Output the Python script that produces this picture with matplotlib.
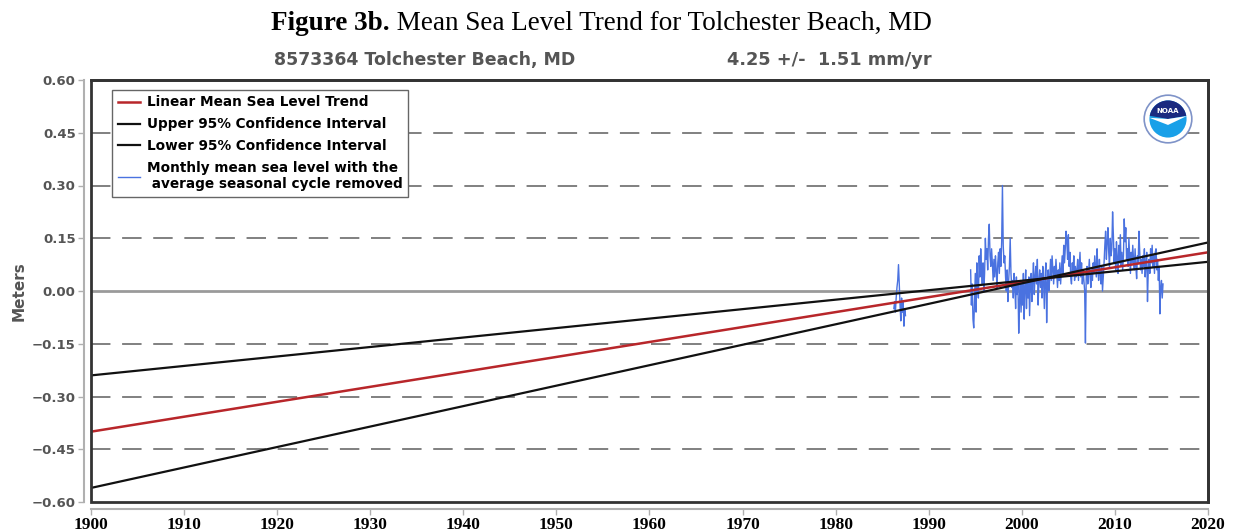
import numpy as np
import matplotlib
matplotlib.use("Agg")
import matplotlib.pyplot as plt
from matplotlib.patches import Rectangle, Circle, Wedge, Polygon

# ---------------- data ----------------
x_ticks = [1900, 1910, 1920, 1930, 1940, 1950, 1960, 1970, 1980, 1990, 2000, 2010, 2020]
y_ticks = [0.60, 0.45, 0.30, 0.15, 0.00, -0.15, -0.30, -0.45, -0.60]

trend_years = [1900, 2020]
trend_vals = [-0.40, 0.11]
ci_a_vals = [-0.56, 0.138]
ci_b_vals = [-0.24, 0.083]

# monthly MSL, segment 1 starts Apr 1986
seg1_start = 1986.25
seg1_vals = [-0.05, -0.03, -0.06, -0.02, 0.01, 0.03, 0.075, 0.02, -0.04, -0.085,
             -0.02, -0.06, -0.03, -0.10, -0.05, -0.07]

# monthly MSL, segment 2 starts Jul 1994
seg2_start = 1994.5
seg2_vals = [
    0.06, -0.04, 0.02, -0.08, -0.105, -0.03,
    0.05, -0.06, 0.08, 0.01, -0.02, 0.10, 0.04, 0.12, 0.06, 0.02, 0.08, 0.00,
    0.05, 0.15, 0.09, 0.12, 0.06, 0.15, 0.19, 0.10, 0.07, 0.12, 0.08, 0.03,
    0.09, 0.04, 0.10, 0.06, 0.01, 0.08, 0.11, 0.05, 0.12, 0.07, 0.14, 0.30,
    0.13, 0.08, 0.10, 0.04, 0.00, 0.06, -0.03, 0.03, 0.07, 0.15, 0.05, 0.01,
    0.03, -0.02, 0.05, 0.01, -0.05, 0.04, -0.01, 0.02, -0.12, -0.03, 0.03, -0.06,
    0.02, -0.04, 0.05, -0.08, 0.01, 0.06, -0.05, 0.03, -0.02, 0.04, -0.07, 0.02,
    0.05, -0.03, 0.03, 0.08, -0.01, 0.04, 0.07, 0.02, 0.09, -0.04, 0.03, 0.06,
    0.01, 0.05, -0.02, 0.07, 0.03, -0.05, 0.04, 0.08, -0.09, 0.02, 0.06, 0.00,
    0.04, 0.09, 0.03, 0.10, 0.06, 0.02, 0.07, 0.04, 0.09, 0.05, 0.01, 0.06,
    0.03, 0.08, 0.02, 0.06, 0.10, 0.05, 0.13, 0.08, 0.12, 0.17, 0.14, 0.09,
    0.16, 0.07, 0.11, 0.04, 0.02, 0.08, 0.05, 0.10, 0.03, 0.07, 0.04, 0.06,
    0.09, 0.03, 0.07, 0.11, 0.04, 0.08, 0.02, 0.06, 0.03, 0.00, -0.148, 0.04,
    0.07, 0.02, 0.05, 0.09, 0.04, 0.01, 0.06, 0.03, 0.08, 0.05, 0.10, 0.07,
    0.04, 0.12, 0.06, 0.03, 0.09, 0.05, 0.02, 0.07, 0.00, 0.04, 0.08, 0.13,
    0.17, 0.09, 0.14, 0.18, 0.11, 0.07, 0.15, 0.10, 0.12, 0.225, 0.16, 0.08,
    0.12, 0.06, 0.14, 0.09, 0.05, 0.13, 0.08, 0.16, 0.07, 0.11, 0.06, 0.10,
    0.205, 0.14, 0.18, 0.09, 0.12, 0.07, 0.15, 0.10, 0.05, 0.11, 0.08, 0.13,
    0.09, 0.06, 0.12, 0.07, 0.035, 0.10, 0.08, 0.17, 0.11, 0.06, 0.09, 0.05,
    0.10, 0.07, 0.12, 0.04, 0.08, 0.11, -0.03, 0.06, 0.09, 0.05, 0.12, 0.08,
    0.13, 0.07, 0.10, 0.05, 0.11, 0.12, 0.06, 0.09, 0.03, 0.07, -0.065, 0.01,
    0.03, -0.02, 0.02,
]

legend_labels = ["Linear Mean Sea Level Trend",
                 "Upper 95% Confidence Interval",
                 "Lower 95% Confidence Interval",
                 "Monthly mean sea level with the\n average seasonal cycle removed"]

title_bold = "Figure 3b."
title_rest = " Mean Sea Level Trend for Tolchester Beach, MD"
station_text = "8573364 Tolchester Beach, MD"
rate_text = "4.25 +/-  1.51 mm/yr"

# ---------------- figure ----------------
fig = plt.figure(figsize=(12.36, 5.31), dpi=100)
ax = fig.add_axes([91 / 1236, 1 - 502 / 531, 1117 / 1236, 422 / 531])

ax.set_xlim(1900, 2020)
ax.set_ylim(-0.6, 0.6)

# grid lines
for v in y_ticks:
    if v == 0:
        ax.axhline(v, color="#9a9a9a", lw=2.0, zorder=1)
    elif abs(v) < 0.59:
        ax.axhline(v, color="#808080", lw=1.4, ls=(0, (10, 6)), zorder=1)

seg1_x = seg1_start + np.arange(len(seg1_vals)) / 12.0
seg2_x = seg2_start + np.arange(len(seg2_vals)) / 12.0

l_trend, = ax.plot(trend_years, trend_vals, color="#b8262a", lw=1.8, zorder=4)
l_up, = ax.plot(trend_years, ci_a_vals, color="#111111", lw=1.6, zorder=4)
l_lo, = ax.plot(trend_years, ci_b_vals, color="#111111", lw=1.6, zorder=4)
l_data, = ax.plot(seg1_x, seg1_vals, color="#4a72e0", lw=1.0, zorder=3)
ax.plot(seg2_x, seg2_vals, color="#4a72e0", lw=1.0, zorder=3)

# spines: offset gray axis lines for left/bottom, dark frame
for s in ["left", "bottom"]:
    ax.spines[s].set_position(("outward", 5))
    ax.spines[s].set_color("#b0b0b0")
    ax.spines[s].set_linewidth(1.5)
for s in ["top", "right"]:
    ax.spines[s].set_color("#333333")
    ax.spines[s].set_linewidth(2.0)
frame = Rectangle((0, 0), 1, 1, transform=ax.transAxes, fill=False,
                  edgecolor="#333333", lw=2.0, clip_on=False, zorder=6)
ax.add_patch(frame)

ax.set_xticks(x_ticks)
ax.set_xticklabels([str(t) for t in x_ticks], fontfamily="Liberation Serif",
                   fontweight="bold", fontsize=12.5, color="black")
ax.set_yticks(y_ticks)
ax.set_yticklabels([("\u2212" if v < 0 else "") + f"{abs(v):.2f}" for v in y_ticks],
                   fontfamily="DejaVu Sans", fontweight="bold", fontsize=9.5,
                   color="#555555")
ax.tick_params(axis="both", direction="out", length=4, width=1, color="#b0b0b0")
ax.tick_params(axis="y", pad=2)
ax.tick_params(axis="x", pad=2)

ax.set_ylabel("Meters", fontsize=11, fontweight="bold", color="#555555", labelpad=4)

leg = ax.legend([l_trend, l_up, l_lo, l_data], legend_labels,
                loc="upper left", bbox_to_anchor=(0.019, 0.977), borderaxespad=0,
                frameon=True, fancybox=False, framealpha=1, edgecolor="#666666",
                prop={"family": "DejaVu Sans", "weight": "bold", "size": 9.8},
                handlelength=1.6, handletextpad=0.5, labelspacing=0.58,
                borderpad=0.42)
leg.get_frame().set_linewidth(1.0)
leg.set_zorder(7)

# NOAA-like logo in its own square axes
lax = fig.add_axes([1143 / 1236, 1 - 144 / 531, 50 / 1236, 50 / 531])
lax.set_xlim(-1.05, 1.05)
lax.set_ylim(-1.05, 1.05)
lax.set_aspect("equal")
lax.axis("off")
lax.add_patch(Circle((0, 0), 1.0, facecolor="white", edgecolor="#7f93c8", lw=1.2))
lax.add_patch(Circle((0, 0), 0.78, facecolor="#19a0e8", edgecolor="none"))
lax.add_patch(Wedge((0, 0), 0.78, 10, 170, facecolor="#1a2a80", edgecolor="none"))
lax.add_patch(Polygon([[-0.78, 0.05], [0.0, -0.25], [0.78, 0.12], [0.0, 0.0]],
                      closed=True, facecolor="white", edgecolor="none"))
lax.text(0, 0.35, "NOAA", ha="center", va="center", color="white",
         fontsize=5, fontweight="bold")

# titles
tb = fig.text(271 / 1236, 0.955, title_bold, ha="left", va="center",
              fontfamily="Liberation Serif", fontweight="bold", fontsize=19.5)
fig.canvas.draw()
bb = tb.get_window_extent()
fig.text(bb.x1 / fig.bbox.width, 0.955, title_rest, ha="left", va="center",
         fontfamily="Liberation Serif", fontsize=19.5)
fig.text(274 / 1236, 1 - 60 / 531, station_text, ha="left", va="center",
         fontfamily="DejaVu Sans", fontweight="bold", fontsize=12.5, color="#555555")
fig.text(727 / 1236, 1 - 60 / 531, rate_text, ha="left", va="center",
         fontfamily="DejaVu Sans", fontweight="bold", fontsize=12.8, color="#555555")

fig.savefig("out.png", dpi=100)
